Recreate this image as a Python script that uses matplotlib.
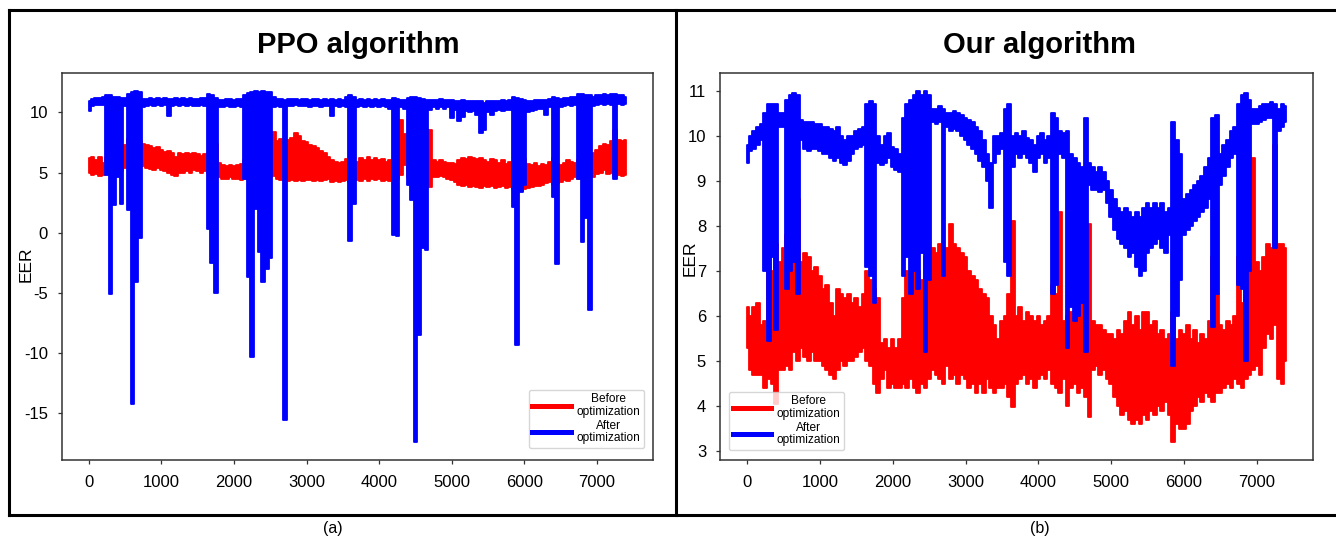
"""
plot.py -- EER before / after optimization, PPO vs. our algorithm.

Each trace is a very noisy ~7400-step signal, so it is stored as the lower and
upper edge of its band, read off the figure every 50 steps, and drawn as a
filled column per reading. Saves out.png.
"""

import numpy as np
import matplotlib
matplotlib.use("Agg")
import matplotlib.pyplot as plt
from matplotlib.lines import Line2D

plt.rcParams["font.family"] = ["Liberation Sans", "DejaVu Sans"]
plt.rcParams["axes.unicode_minus"] = False

# sample index of each band reading
STEP = np.arange(0, 7401, 50)

# --- (a) PPO algorithm -------------------------------------------------------
PPO_BEFORE_LO = [
    5.0, 4.8, 4.9, 4.7, 4.8, 4.9, 5.0, 4.9, 5.0, 5.1,
    5.4, 5.6, 5.7, 5.8, 5.6, 5.5, 5.4, 5.3, 5.2, 5.4,
    5.2, 5.1, 5.0, 4.8, 4.7, 5.0, 5.0, 5.1, 5.0, 5.2,
    5.1, 5.0, 5.1, 5.0, 5.0, 4.8, 4.6, 4.5, 4.5, 4.6,
    4.5, 4.5, 4.4, 4.5, 4.6, 4.5, 4.6, 4.5, 4.7, 4.6,
    4.6, 4.7, 4.5, 4.4, 4.5, 4.3, 4.4, 4.3, 4.4, 4.3,
    4.4, 4.4, 4.3, 4.4, 4.3, 4.4, 4.5, 4.2, 4.3, 4.2,
    4.3, 4.4, 4.2, 4.4, 4.4, 4.3, 4.5, 4.3, 4.5, 4.4,
    4.5, 4.3, 4.4, 4.3, 4.4, 4.5, 4.8, 5.6, 4.6, 4.2,
    4.3, 4.4, 4.4, 4.3, 3.8, 4.6, 4.6, 4.7, 4.6, 4.5,
    4.4, 4.2, 4.0, 3.9, 4.0, 3.8, 3.9, 3.8, 3.7, 3.9,
    3.8, 3.9, 3.7, 3.8, 3.9, 3.7, 3.8, 3.6, 3.7, 3.5,
    3.6, 3.7, 3.8, 3.9, 3.9, 4.0, 4.1, 4.2, 4.0, 4.1,
    4.2, 4.4, 4.3, 4.5, 4.6, 4.5, 4.6, 4.5, 4.7, 4.6,
    4.9, 5.0, 5.2, 4.9, 5.0, 4.7, 4.8, 4.7, 4.8]
PPO_BEFORE_HI = [
    6.2, 6.3, 6.0, 6.3, 5.8, 6.2, 6.5, 6.3, 6.5, 6.8,
    7.3, 7.8, 7.9, 8.6, 7.6, 7.4, 7.3, 7.2, 7.0, 7.1,
    6.9, 6.7, 6.8, 6.6, 6.3, 6.6, 6.5, 6.6, 6.5, 6.6,
    6.5, 6.4, 6.5, 6.6, 7.0, 7.4, 5.8, 5.6, 5.5, 5.6,
    5.5, 5.6, 5.7, 6.0, 6.3, 6.5, 6.6, 6.8, 7.0, 7.2,
    7.5, 8.4, 7.6, 7.8, 7.5, 7.7, 7.9, 8.3, 8.0, 7.6,
    7.5, 7.3, 7.2, 7.0, 6.8, 6.6, 6.3, 6.0, 5.9, 5.8,
    5.9, 6.1, 6.0, 5.9, 5.9, 6.2, 6.0, 6.3, 6.0, 6.2,
    6.0, 6.1, 5.9, 6.0, 5.9, 6.2, 9.4, 8.2, 6.8, 5.6,
    7.0, 6.2, 6.0, 6.1, 8.5, 6.0, 5.9, 6.0, 5.9, 5.8,
    5.8, 5.7, 6.0, 6.2, 6.1, 6.3, 6.2, 6.1, 6.2, 6.0,
    5.9, 6.1, 6.0, 5.8, 6.0, 5.7, 5.9, 5.9, 6.2, 5.8,
    6.1, 5.7, 5.6, 5.8, 5.5, 5.7, 5.6, 5.9, 6.2, 5.7,
    5.6, 5.8, 6.0, 5.9, 5.8, 6.0, 6.2, 6.4, 6.5, 6.6,
    6.9, 7.2, 7.4, 7.3, 7.6, 8.5, 7.7, 7.6, 7.7]
PPO_AFTER_LO = [
    10.1, 10.5, 10.6, 10.6, 10.6, 4.8, -5.1, 2.3, 4.6, 2.4,
    10.5, 1.9, -14.2, -4.1, -0.4, 10.4, 10.5, 10.6, 10.5, 10.6,
    10.5, 10.6, 9.7, 10.5, 10.6, 10.5, 10.6, 10.5, 10.6, 10.5,
    10.5, 10.6, 10.5, 0.3, -2.5, -5.0, 10.4, 10.4, 10.5, 10.4,
    10.4, 10.5, 10.4, 4.5, -3.7, -10.3, 2.0, -1.6, -4.1, -3.0,
    -2.1, 10.4, 10.5, 10.4, -15.5, 10.5, 10.5, 10.6, 10.5, 10.5,
    10.5, 10.4, 10.5, 10.5, 10.4, 10.5, 10.5, 9.7, 10.5, 10.4,
    10.5, 10.4, -0.7, 2.4, 10.4, 10.5, 10.4, 10.5, 10.4, 10.5,
    10.4, 10.5, 10.4, 10.3, -0.2, -0.3, 10.4, 10.3, 4.0, 2.7,
    -17.4, -8.5, -1.3, -1.4, 10.2, 10.4, 10.3, 10.4, 10.3, 10.4,
    9.5, 10.2, 9.3, 9.6, 10.1, 10.0, 10.1, 9.8, 8.3, 8.5,
    10.0, 9.8, 10.1, 10.2, 10.1, 10.2, 10.2, 2.1, -9.3, 3.4,
    4.0, 10.0, 10.1, 10.2, 10.3, 10.3, 9.8, 10.4, 3.0, -2.6,
    10.4, 10.5, 10.6, 10.5, 10.6, 4.5, -0.8, 1.2, -6.4, 10.5,
    10.6, 10.7, 10.6, 10.7, 10.6, 4.5, 10.7, 10.6, 10.7]
PPO_AFTER_HI = [
    10.9, 11.1, 11.2, 11.2, 11.3, 11.4, 11.4, 11.3, 11.3, 11.2,
    11.2, 11.5, 11.7, 11.8, 11.7, 11.1, 11.1, 11.2, 11.1, 11.2,
    11.1, 11.2, 11.1, 11.1, 11.2, 11.1, 11.2, 11.1, 11.2, 11.1,
    11.1, 11.2, 11.2, 11.5, 11.4, 11.2, 11.0, 11.0, 11.1, 11.1,
    11.0, 11.1, 11.1, 11.4, 11.6, 11.7, 11.8, 11.7, 11.8, 11.7,
    11.7, 11.3, 11.1, 11.1, 11.0, 11.1, 11.1, 11.1, 11.0, 11.1,
    11.1, 11.0, 11.1, 11.1, 11.0, 11.1, 11.0, 11.1, 11.0, 11.1,
    11.0, 11.3, 11.4, 11.3, 11.0, 11.1, 11.0, 11.1, 11.0, 11.1,
    11.0, 11.1, 11.0, 11.0, 11.2, 11.1, 11.0, 11.0, 11.2, 11.3,
    11.3, 11.2, 11.1, 11.0, 11.0, 11.0, 11.0, 11.1, 11.0, 11.0,
    11.0, 10.9, 10.9, 11.0, 10.9, 10.9, 10.9, 10.9, 10.9, 10.8,
    10.9, 10.9, 10.9, 10.9, 11.0, 10.9, 11.0, 11.3, 11.2, 11.1,
    11.0, 10.9, 10.9, 11.0, 11.0, 11.0, 11.0, 11.1, 11.3, 11.2,
    11.1, 11.2, 11.2, 11.3, 11.3, 11.5, 11.5, 11.4, 11.4, 11.3,
    11.4, 11.4, 11.5, 11.4, 11.5, 11.5, 11.4, 11.4, 11.3]

# --- (b) our algorithm -------------------------------------------------------
OURS_BEFORE_LO = [
    5.3, 4.8, 4.7, 4.7, 4.7, 4.4, 4.6, 4.5, 4.05, 4.8,
    4.8, 4.9, 4.8, 5.2, 5.0, 5.3, 5.1, 5.0, 5.2, 5.0,
    5.0, 4.9, 4.8, 4.7, 4.6, 4.8, 5.0, 4.9, 5.0, 5.0,
    5.1, 5.2, 5.3, 5.0, 4.9, 4.5, 4.3, 4.6, 4.8, 4.4,
    4.5, 4.4, 4.4, 4.5, 4.4, 4.6, 4.4, 4.3, 4.5, 4.4,
    4.6, 4.8, 4.7, 4.6, 4.5, 4.9, 4.6, 4.7, 4.5, 4.7,
    4.6, 4.4, 4.5, 4.3, 4.5, 4.3, 4.6, 4.4, 4.3, 4.4,
    4.4, 4.5, 4.2, 3.98, 4.5, 4.6, 4.7, 4.5, 4.6, 4.4,
    4.6, 4.7, 4.6, 4.8, 4.5, 4.4, 4.3, 4.6, 4.0, 4.4,
    4.5, 4.3, 4.4, 4.2, 3.76, 4.8, 4.9, 4.7, 4.8, 4.6,
    4.5, 4.2, 4.0, 3.8, 3.9, 3.7, 3.6, 3.7, 3.6, 3.8,
    3.7, 3.9, 3.8, 4.0, 3.9, 4.1, 3.8, 3.2, 3.6, 3.5,
    3.5, 3.6, 3.9, 4.0, 4.2, 4.1, 4.3, 4.2, 4.1, 4.3,
    4.3, 4.4, 4.5, 4.4, 4.6, 4.5, 4.4, 4.6, 4.7, 4.8,
    4.9, 4.7, 5.3, 5.6, 5.5, 5.8, 4.6, 4.5, 5.0]
OURS_BEFORE_HI = [
    6.2, 6.0, 6.2, 6.3, 5.8, 5.9, 7.3, 7.0, 7.6, 7.2,
    7.5, 7.8, 7.6, 7.3, 8.6, 7.2, 7.4, 7.3, 7.0, 7.1,
    6.9, 6.6, 6.7, 6.3, 6.0, 6.6, 6.5, 6.4, 6.5, 6.3,
    6.4, 6.2, 6.5, 7.0, 6.8, 6.6, 6.4, 5.4, 5.5, 5.3,
    5.5, 5.3, 5.5, 6.4, 7.0, 6.5, 8.1, 7.0, 6.8, 7.3,
    7.0, 7.5, 7.4, 7.6, 7.2, 7.5, 8.05, 7.6, 7.5, 7.4,
    7.3, 7.0, 6.9, 6.8, 6.6, 6.5, 6.4, 6.0, 5.8, 5.5,
    5.9, 6.0, 6.5, 8.1, 6.0, 6.2, 5.9, 6.1, 6.0, 5.9,
    6.0, 5.8, 5.9, 6.0, 6.7, 6.5, 8.3, 5.9, 6.0, 6.1,
    6.0, 6.1, 6.3, 6.0, 8.05, 5.9, 5.8, 5.8, 5.7, 5.6,
    5.6, 5.5, 5.7, 5.6, 5.9, 6.1, 5.8, 6.0, 5.7, 6.1,
    6.1, 5.8, 5.9, 5.6, 5.7, 5.5, 5.6, 6.1, 5.5, 5.7,
    5.6, 5.8, 5.5, 5.7, 5.4, 5.6, 5.5, 5.9, 7.3, 6.5,
    5.8, 5.7, 5.9, 5.8, 6.0, 7.3, 6.3, 6.9, 7.2, 9.5,
    7.2, 7.0, 7.3, 7.6, 7.5, 9.8, 7.6, 7.6, 7.5]
OURS_AFTER_LO = [
    9.4, 9.65, 9.7, 9.8, 9.9, 7.0, 5.45, 7.3, 5.7, 10.2,
    10.2, 6.6, 7.0, 7.2, 6.5, 9.9, 9.7, 9.65, 9.7, 9.7,
    9.65, 9.6, 9.6, 9.5, 9.45, 9.5, 9.4, 9.35, 9.45, 9.6,
    9.7, 9.75, 9.8, 7.1, 6.9, 6.3, 9.4, 9.35, 9.4, 9.5,
    9.3, 9.25, 9.2, 6.9, 7.3, 6.5, 7.0, 6.6, 7.4, 5.2,
    6.8, 10.3, 10.25, 10.3, 6.9, 10.2, 10.1, 10.15, 10.1, 10.0,
    9.9, 9.8, 9.7, 9.6, 9.45, 9.3, 9.0, 8.4, 9.4, 9.6,
    9.7, 7.2, 6.9, 9.3, 9.6, 9.5, 9.6, 9.5, 9.4, 9.2,
    9.5, 9.6, 9.4, 9.5, 6.5, 6.7, 9.6, 9.5, 5.3, 6.2,
    5.9, 6.0, 6.3, 5.2, 8.9, 8.8, 8.8, 8.75, 8.8, 8.5,
    8.2, 7.9, 7.7, 7.6, 7.5, 7.3, 7.4, 7.1, 6.9, 7.0,
    7.4, 7.5, 7.6, 7.7, 7.5, 7.4, 7.8, 4.9, 6.0, 6.8,
    7.8, 7.9, 8.0, 8.1, 8.2, 8.3, 8.4, 8.6, 5.75, 6.5,
    8.9, 9.1, 9.3, 9.5, 9.6, 6.7, 6.6, 5.0, 7.0, 10.25,
    10.25, 10.3, 10.35, 10.4, 10.4, 7.5, 10.1, 10.2, 10.3]
OURS_AFTER_HI = [
    9.8, 10.0, 10.1, 10.2, 10.25, 10.5, 10.7, 10.7, 10.7, 10.5,
    10.5, 10.8, 10.9, 10.95, 10.9, 10.35, 10.3, 10.3, 10.3, 10.25,
    10.25, 10.2, 10.2, 10.15, 10.1, 10.2, 10.0, 9.9, 10.0, 10.0,
    10.1, 10.15, 10.2, 10.7, 10.76, 10.7, 10.0, 9.8, 10.0, 10.06,
    9.75, 9.7, 9.6, 10.4, 10.7, 10.8, 10.9, 11.0, 10.9, 11.0,
    10.9, 10.6, 10.6, 10.65, 10.6, 10.5, 10.5, 10.55, 10.5, 10.45,
    10.4, 10.35, 10.3, 10.2, 10.1, 9.9, 9.6, 9.4, 10.0, 10.0,
    10.05, 10.6, 10.7, 10.0, 10.05, 10.0, 10.1, 9.95, 9.9, 9.8,
    10.0, 10.05, 9.9, 10.0, 10.5, 10.4, 10.1, 10.05, 10.1, 9.6,
    9.5, 9.4, 9.3, 10.4, 9.4, 9.3, 9.2, 9.3, 9.2, 9.0,
    8.8, 8.6, 8.4, 8.3, 8.4, 8.3, 8.2, 8.3, 8.2, 8.4,
    8.5, 8.4, 8.5, 8.4, 8.5, 8.3, 8.4, 10.3, 9.9, 9.6,
    8.6, 8.7, 8.8, 8.9, 9.0, 9.1, 9.3, 9.5, 10.4, 10.45,
    9.6, 9.8, 9.9, 10.1, 10.2, 10.7, 10.9, 10.95, 10.8, 10.6,
    10.6, 10.65, 10.7, 10.7, 10.75, 10.7, 10.6, 10.7, 10.65]

LABELS = ["Before\noptimization", "After\noptimization"]
RED, BLUE = "#ff0000", "#0000ff"

W, H = 1336, 538   # output size in pixels (dpi 100)


def band(ax, lo, hi, color, label):
    # one filled column per reading: reads like the dense raw trace
    ax.fill_between(STEP, lo, hi, step="mid", color=color, lw=1.3,
                    edgecolor=color)
    # empty proxy so the legend shows a line, not a patch
    ax.plot([], [], color=color, label=label)


def style(ax):
    for s in ax.spines.values():
        s.set_color("#333333")
        s.set_linewidth(1.1)
    ax.tick_params(axis="both", direction="out", length=3, width=0.9,
                   color="#333333", labelsize=12)
    ax.tick_params(axis="x", pad=8)
    ax.tick_params(axis="y", pad=7.0)
    ax.set_xticks(range(0, 7001, 1000))


def legend(ax, loc, anchor):
    leg = ax.legend(loc=loc, bbox_to_anchor=anchor, borderaxespad=0,
                    fontsize=8.6, handlelength=3.2, handletextpad=0.5,
                    labelspacing=0.1, borderpad=0.3, fancybox=True)
    for t in leg.get_texts():
        t.set_multialignment("center")
        t.set_linespacing(1.1)
    for h in leg.get_lines():
        h.set_linewidth(3.6)


def main():
    fig = plt.figure(figsize=(W / 100, H / 100), dpi=100)

    # axes boxes in pixels: left, top, right, bottom
    boxes = [(62, 73, 653, 460), (720, 73, 1313, 460)]
    axes = []
    for l, t, r, b in boxes:
        axes.append(fig.add_axes([l / W, 1 - b / H, (r - l) / W, (b - t) / H]))
    ax_a, ax_b = axes

    band(ax_a, PPO_BEFORE_LO, PPO_BEFORE_HI, RED, LABELS[0])
    band(ax_a, PPO_AFTER_LO, PPO_AFTER_HI, BLUE, LABELS[1])
    ax_a.set_yticks([10, 5, 0, -5, -10, -15])

    band(ax_b, OURS_BEFORE_LO, OURS_BEFORE_HI, RED, LABELS[0])
    band(ax_b, OURS_AFTER_LO, OURS_AFTER_HI, BLUE, LABELS[1])
    ax_b.set_yticks(range(3, 12))

    for ax in axes:
        style(ax)
        ax.set_ylabel("EER", fontsize=12.5, labelpad=0)
    ax_a.yaxis.set_label_coords(-0.0475, 0.506)
    ax_b.yaxis.set_label_coords(-0.037, 0.522)

    legend(ax_a, "lower right", (1 - 9 / 591, 12 / 387))
    legend(ax_b, "lower left", (9 / 593, 10 / 387))

    # titles sit above each panel (not quite centred on (b))
    fig.text(358.5 / W, 1 - 53 / H, "PPO algorithm", ha="center",
             va="baseline", fontsize=21, fontweight="bold")
    fig.text(1039 / W, 1 - 53 / H, "Our algorithm", ha="center",
             va="baseline", fontsize=21, fontweight="bold")

    # panel frames and captions
    y_top, y_bot = 1 - 10 / H, 1 - 515 / H
    kw = dict(color="black", lw=2.2, transform=fig.transFigure)
    fig.add_artist(Line2D([9 / W, 1], [y_top, y_top], **kw))
    fig.add_artist(Line2D([9 / W, 1], [y_bot, y_bot], **kw))
    fig.add_artist(Line2D([9 / W, 9 / W], [y_bot, y_top], **kw))
    fig.add_artist(Line2D([676 / W, 676 / W], [y_bot, y_top], **kw))
    fig.text(333 / W, 1 - 528 / H, "(a)", ha="center", va="center",
             fontsize=11.5)
    fig.text(1040 / W, 1 - 528 / H, "(b)", ha="center", va="center",
             fontsize=11.5)

    fig.savefig("out.png", dpi=100)
    plt.close(fig)


if __name__ == "__main__":
    main()
